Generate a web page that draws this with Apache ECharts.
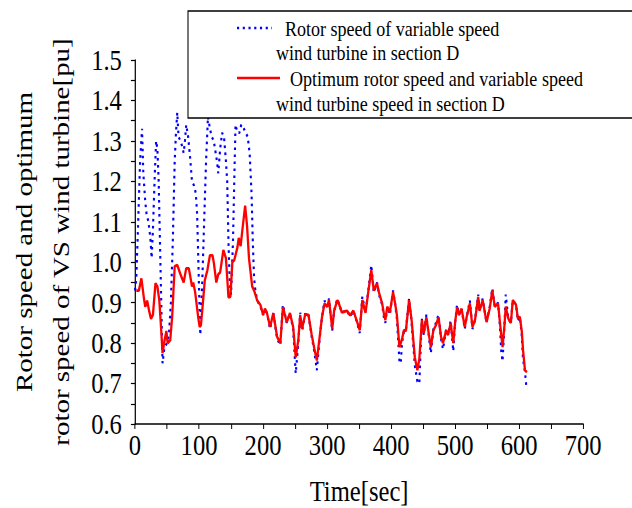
<!DOCTYPE html>
<html>
<head>
<meta charset="utf-8">
<script src="https://cdn.jsdelivr.net/npm/echarts@6/dist/echarts.min.js"></script>
<style>
  html, body { margin: 0; padding: 0; background: #fff; overflow: hidden; }
  #chart { height: 508px; transform-origin: 0 0; }
</style>
</head>
<body>
<div id="chart"></div>
<script>
// the original figure is squeezed sideways, so the chart is drawn wider and scaled back
var SX = 0.82;
function ux(px) { return px / SX; }

var legendNames = [
  'Rotor speed of variable speed wind turbine in section D',
  'Optimum rotor speed and variable speed wind turbine speed in section D'
];

// rotor speed of VS turbine (blue dotted)
var blueTime = [0, 2, 5, 8, 11, 13, 16, 18, 21, 24, 26, 28, 31, 33, 35, 37, 39, 41, 43, 46,
  50, 53, 56, 59, 62, 64, 66, 68, 71, 73, 76, 78, 80, 83, 86, 89, 92, 95, 97, 99,
  101, 102, 105, 108, 111, 114, 117, 120, 123, 126, 128, 130, 133, 136, 139, 142, 144, 146, 148, 150,
  153, 155, 157, 160, 163, 166, 170, 173, 176, 179, 182, 184, 186, 188, 191, 196, 200, 203, 206, 211,
  216, 222, 227, 231, 237, 242, 247, 251, 255, 258, 261, 266, 271, 276, 280, 284, 288, 292, 296, 300,
  303, 308, 311, 316, 319, 323, 327, 331, 336, 341, 347, 351, 355, 360, 364, 369, 371, 373, 378, 381,
  386, 389, 391, 394, 398, 403, 406, 409, 413, 415, 417, 420, 423, 428, 432, 437, 441, 444, 448, 451,
  455, 458, 462, 466, 470, 474, 478, 481, 486, 489, 493, 497, 500, 503, 506, 510, 515, 518, 523, 527,
  531, 536, 538, 543, 549, 554, 558, 562, 567, 570, 572, 574, 577, 579, 583, 587, 590, 595, 598, 601,
  604, 606, 609, 611];
var blueSpeed = [0.93, 0.96, 1.10, 1.25, 1.33, 1.22, 1.15, 1.12, 1.10, 1.06, 1.01, 1.08, 1.22, 1.30, 1.28, 1.20, 1.05, 0.90, 0.75, 0.79,
  0.80, 0.82, 0.90, 1.05, 1.25, 1.32, 1.37, 1.31, 1.30, 1.29, 1.27, 1.30, 1.34, 1.31, 1.26, 1.20, 1.19, 1.17, 1.12, 1.00,
  0.87, 0.82, 0.95, 1.10, 1.25, 1.36, 1.33, 1.31, 1.30, 1.27, 1.25, 1.22, 1.28, 1.32, 1.31, 1.25, 1.20, 1.05, 0.95, 0.92,
  1.05, 1.20, 1.34, 1.32, 1.32, 1.34, 1.33, 1.32, 1.31, 1.27, 1.17, 1.05, 0.96, 0.93, 0.905, 0.89, 0.87, 0.88, 0.875, 0.835,
  0.874, 0.81, 0.795, 0.895, 0.85, 0.874, 0.835, 0.725, 0.80, 0.875, 0.83, 0.875, 0.869, 0.815, 0.78, 0.733, 0.805, 0.864, 0.905, 0.89,
  0.91, 0.83, 0.88, 0.91, 0.895, 0.876, 0.878, 0.88, 0.865, 0.88, 0.85, 0.825, 0.915, 0.875, 0.925, 0.993, 0.96, 0.925, 0.95, 0.92,
  0.895, 0.86, 0.85, 0.89, 0.87, 0.93, 0.90, 0.86, 0.755, 0.75, 0.80, 0.83, 0.83, 0.91, 0.85, 0.745, 0.705, 0.70, 0.86, 0.82,
  0.87, 0.83, 0.775, 0.835, 0.85, 0.87, 0.81, 0.785, 0.835, 0.82, 0.855, 0.78, 0.852, 0.895, 0.87, 0.885, 0.835, 0.865, 0.905, 0.835,
  0.857, 0.92, 0.88, 0.91, 0.85, 0.89, 0.935, 0.89, 0.90, 0.84, 0.78, 0.755, 0.845, 0.92, 0.86, 0.85, 0.906, 0.895, 0.855, 0.865,
  0.82, 0.76, 0.73, 0.695];

// optimum rotor speed (red solid)
var redTime = [2, 6, 10, 14, 16, 19, 22, 25, 28, 32, 35, 38, 41, 43, 46, 49, 51, 55, 58, 62,
  66, 71, 76, 80, 84, 86, 89, 91, 94, 99, 101, 103, 105, 109, 113, 117, 121, 123, 127, 130,
  133, 138, 142, 146, 149, 152, 155, 160, 162, 165, 167, 172, 175, 178, 183, 186, 191, 196, 200, 203,
  206, 211, 216, 222, 227, 231, 237, 242, 247, 251, 255, 258, 261, 266, 271, 276, 280, 284, 288, 292,
  296, 300, 303, 308, 311, 316, 319, 323, 327, 331, 336, 341, 347, 351, 355, 360, 364, 369, 371, 373,
  378, 381, 386, 389, 391, 394, 398, 403, 406, 409, 413, 417, 420, 423, 428, 432, 437, 441, 444, 448,
  451, 455, 458, 462, 466, 470, 474, 478, 481, 486, 489, 493, 497, 500, 503, 506, 510, 515, 518, 523,
  527, 531, 536, 538, 543, 549, 554, 558, 562, 567, 570, 574, 577, 579, 583, 587, 590, 595, 598, 601,
  604, 606, 609, 612];
var redSpeed = [0.93, 0.93, 0.96, 0.91, 0.89, 0.905, 0.88, 0.86, 0.87, 0.948, 0.94, 0.905, 0.83, 0.775, 0.805, 0.83, 0.80, 0.807, 0.864, 0.99,
  0.993, 0.97, 0.95, 0.985, 0.985, 0.968, 0.94, 0.95, 0.925, 0.86, 0.84, 0.845, 0.88, 0.955, 0.98, 1.017, 1.017, 1.0, 0.95, 0.97,
  0.975, 1.03, 1.01, 0.913, 0.915, 1.0, 1.005, 1.037, 1.06, 1.04, 1.07, 1.14, 1.09, 1.01, 0.94, 0.93, 0.905, 0.894, 0.87, 0.885,
  0.875, 0.84, 0.874, 0.815, 0.80, 0.889, 0.852, 0.874, 0.84, 0.765, 0.807, 0.869, 0.836, 0.872, 0.869, 0.82, 0.787, 0.757, 0.81, 0.864,
  0.898, 0.89, 0.906, 0.836, 0.88, 0.906, 0.895, 0.876, 0.878, 0.88, 0.869, 0.88, 0.852, 0.832, 0.906, 0.875, 0.923, 0.98, 0.955, 0.93,
  0.948, 0.925, 0.898, 0.87, 0.857, 0.89, 0.876, 0.926, 0.90, 0.87, 0.79, 0.81, 0.832, 0.83, 0.906, 0.857, 0.765, 0.733, 0.76, 0.857,
  0.825, 0.864, 0.832, 0.79, 0.832, 0.844, 0.864, 0.815, 0.80, 0.832, 0.82, 0.85, 0.80, 0.852, 0.889, 0.87, 0.885, 0.84, 0.865, 0.898,
  0.84, 0.857, 0.914, 0.88, 0.906, 0.852, 0.886, 0.93, 0.89, 0.898, 0.85, 0.79, 0.844, 0.89, 0.861, 0.85, 0.906, 0.895, 0.861, 0.865,
  0.83, 0.783, 0.733, 0.728];

function pairs(xs, ys) {
  return xs.map(function (x, i) { return [x, ys[i]]; });
}

var serif = 'Liberation Serif';
var W = 632 / SX;
var chartDom = document.getElementById('chart');
chartDom.style.width = W + 'px';
chartDom.style.transform = 'scaleX(' + SX + ')';

var chart = echarts.init(chartDom, null, { renderer: 'svg' });

var axisCommon = {
  type: 'value',
  nameLocation: 'middle',
  axisLine: { show: true, onZero: false, lineStyle: { color: '#000', width: 1.5 } },
  axisTick: { show: true, length: 5, lineStyle: { color: '#000', width: 1.2 } },
  minorTick: { show: true, splitNumber: 2, length: 5, lineStyle: { color: '#000', width: 1.2 } },
  splitLine: { show: false },
  minorSplitLine: { show: false }
};

var option = {
  animation: false,
  backgroundColor: '#fff',
  grid: { left: ux(135), right: W - ux(583), top: 60, bottom: 84, outerBoundsMode: 'none' },
  xAxis: Object.assign({}, axisCommon, {
    min: 0, max: 700, interval: 100,
    name: 'Time[sec]',
    nameGap: 52,
    nameTextStyle: { fontFamily: serif, fontSize: 30, color: '#000' },
    axisLabel: { fontFamily: serif, fontSize: 30, color: '#000', margin: 6 }
  }),
  yAxis: Object.assign({}, axisCommon, {
    min: 0.6, max: 1.5, interval: 0.1,
    name: 'Rotor speed and optimum\nrotor speed of VS wind turbine[pu]',
    nameGap: 68,
    nameTextStyle: { fontFamily: serif, fontSize: 29, lineHeight: 45, color: '#000' },
    axisLabel: {
      fontFamily: serif, fontSize: 30, color: '#000', margin: 16,
      formatter: function (v) { return v.toFixed(1); }
    }
  }),
  series: [
    {
      name: legendNames[0],
      type: 'line',
      data: pairs(blueTime, blueSpeed),
      symbol: 'none',
      z: 2,
      lineStyle: { color: '#0000ff', width: 2.6, type: [2.6, 4.4], cap: 'butt' }
    },
    {
      name: legendNames[1],
      type: 'line',
      data: pairs(redTime, redSpeed),
      symbol: 'none',
      z: 3,
      lineStyle: { color: '#ff0000', width: 2.8 }
    }
  ],
  // legend box drawn by hand: the icons sit on the first text line
  graphic: [
    {
      type: 'rect', z: 100,
      shape: { x: ux(188), y: 11, width: W - ux(188) + 10, height: 107 },
      style: { fill: '#fff', stroke: '#000', lineWidth: 1.3 }
    },
    {
      type: 'line', z: 101,
      shape: { x1: ux(237), y1: 28, x2: ux(272), y2: 28 },
      style: { stroke: '#0000ff', lineWidth: 2.6, lineDash: [2.6, 4.4] }
    },
    {
      type: 'line', z: 101,
      shape: { x1: ux(237), y1: 78, x2: ux(280), y2: 78 },
      style: { stroke: '#ff0000', lineWidth: 2.6 }
    },
    { type: 'text', z: 101, x: ux(285), y: 28,
      style: { text: 'Rotor speed of variable speed', fontFamily: serif, fontSize: 22, fill: '#000', verticalAlign: 'middle' } },
    { type: 'text', z: 101, x: ux(276), y: 52,
      style: { text: 'wind turbine in section D', fontFamily: serif, fontSize: 22, fill: '#000', verticalAlign: 'middle' } },
    { type: 'text', z: 101, x: ux(290), y: 78,
      style: { text: 'Optimum rotor speed and variable speed', fontFamily: serif, fontSize: 22, fill: '#000', verticalAlign: 'middle' } },
    { type: 'text', z: 101, x: ux(276), y: 103,
      style: { text: 'wind turbine speed in section D', fontFamily: serif, fontSize: 22, fill: '#000', verticalAlign: 'middle' } }
  ]
};

chart.setOption(option);
</script>
</body>
</html>
